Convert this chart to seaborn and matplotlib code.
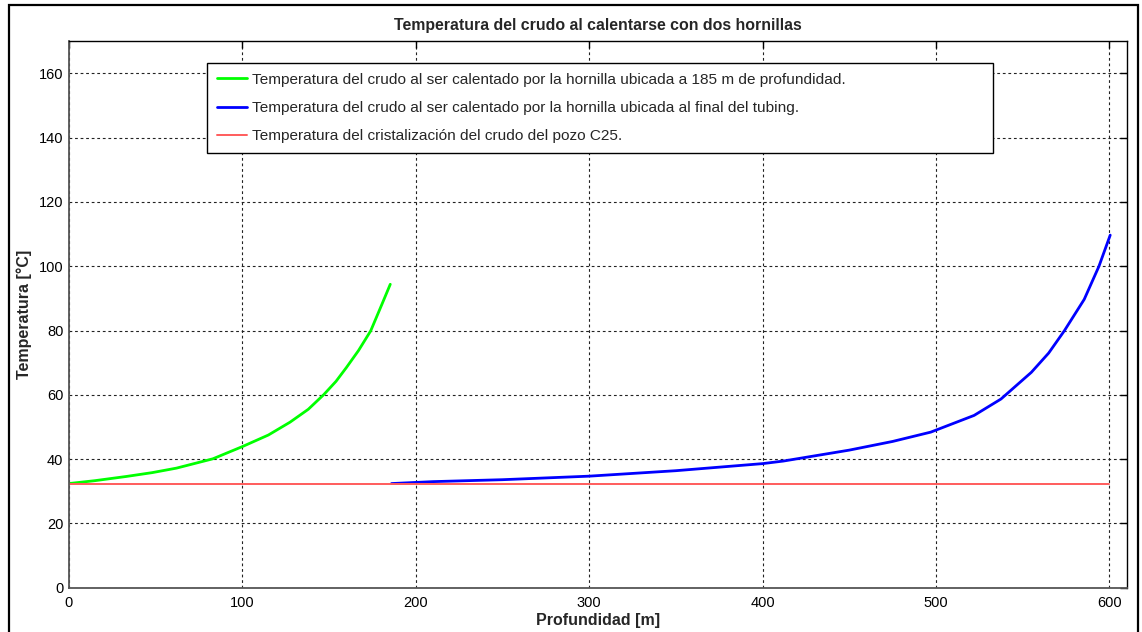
import matplotlib
matplotlib.use("Agg")
import matplotlib.pyplot as plt
import seaborn as sns
import pandas as pd
from matplotlib.patches import Rectangle

# Hornilla a 185 m (verde)
prof_185 = [0, 15, 33, 48, 62, 83, 100, 115, 127.5, 138, 147, 154, 160, 167, 174, 180.5, 185.3]
temp_185 = [32.4, 33.3, 34.6, 35.8, 37.2, 40.1, 43.9, 47.5, 51.5, 55.5, 60.1, 64.2, 68.5, 73.8, 79.9, 88.2, 94.4]

# Hornilla al final del tubing (azul)
prof_fin = [186, 210, 250, 300, 350, 400, 412, 450, 475, 497, 522, 537.5, 555, 565, 574, 585.5, 594, 600.5]
temp_fin = [32.4, 33.0, 33.6, 34.7, 36.4, 38.6, 39.4, 42.8, 45.5, 48.4, 53.6, 58.7, 67.0, 73.0, 79.9, 89.7, 100.0, 109.7]

# Temperatura de cristalizacion (rojo)
prof_cris = [0, 600]
temp_cris = [32.4, 32.4]

labels = [
    "Temperatura del crudo al ser calentado por la hornilla ubicada a 185 m de profundidad.",
    "Temperatura del crudo al ser calentado por la hornilla ubicada al final del tubing.",
    "Temperatura del cristalización del crudo del pozo C25.",
]

sns.set_style("white")
plt.rcParams["font.family"] = ["Liberation Sans", "DejaVu Sans"]

fig = plt.figure(figsize=(11.42, 6.32), dpi=100)
ax = fig.add_axes([0.0604, 0.0701, 0.9262, 0.8646])

df1 = pd.DataFrame({"x": prof_185, "y": temp_185})
df2 = pd.DataFrame({"x": prof_fin, "y": temp_fin})
df3 = pd.DataFrame({"x": prof_cris, "y": temp_cris})

sns.lineplot(data=df1, x="x", y="y", ax=ax, color="#00ff00", linewidth=2, label=labels[0])
sns.lineplot(data=df2, x="x", y="y", ax=ax, color="#0000ff", linewidth=2, label=labels[1])
sns.lineplot(data=df3, x="x", y="y", ax=ax, color="#ff5c5c", linewidth=1.4, label=labels[2])

ax.set_xlim(0, 610)
ax.set_ylim(0, 170)
ax.set_xticks(range(0, 601, 100))
ax.set_yticks(range(0, 161, 20))
ax.grid(True, color="#222222", linestyle=(0, (2.5, 2.5)), linewidth=0.8)
ax.tick_params(direction="in", length=5, width=1, top=True, right=True,
               labelsize=10.5, colors="black")
ax.tick_params(axis="x", pad=6)
ax.tick_params(axis="y", pad=4)
for s in ["left", "bottom"]:
    ax.spines[s].set_color("#555555")
    ax.spines[s].set_linewidth(1.3)
for s in ["top", "right"]:
    ax.spines[s].set_color("black")
    ax.spines[s].set_linewidth(1.0)

ax.set_title("Temperatura del crudo al calentarse con dos hornillas",
             fontsize=11.4, fontweight="bold", pad=8)
ax.set_xlabel("Profundidad [m]", fontsize=11.5, fontweight="bold", labelpad=2)
ax.set_ylabel("Temperatura [°C]", fontsize=11.5, fontweight="bold", labelpad=5)

leg = ax.legend(loc="upper left", bbox_to_anchor=(0.1305, 0.96, 0.743, 0.0),
                mode="expand", borderaxespad=0, fontsize=11.1, frameon=True,
                fancybox=False, framealpha=1, edgecolor="black",
                handlelength=1.95, handletextpad=0.35, borderpad=0.62,
                labelspacing=0.93)
leg.get_frame().set_linewidth(1.0)

fig.patches.append(Rectangle((9 / 1142, -0.02), 1129 / 1142, 1.0 - 5 / 632 + 0.02,
                             transform=fig.transFigure, fill=False,
                             edgecolor="black", linewidth=1.6))

fig.savefig("out.png", dpi=100)
